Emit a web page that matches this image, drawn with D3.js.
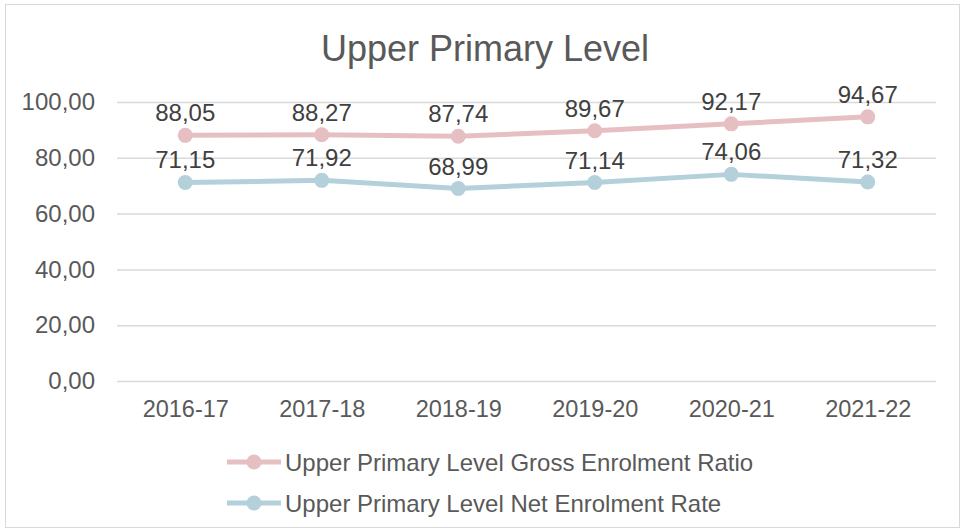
<!DOCTYPE html>
<html><head><meta charset="utf-8">
<script src="https://cdn.jsdelivr.net/npm/d3@7"></script>
<style>body{margin:0;background:#fff;} text{font-family:Arial,"Liberation Sans",sans-serif;}</style>
</head><body><svg id="c" width="964" height="532"></svg>
<script>
const categories = ["2016-17","2017-18","2018-19","2019-20","2020-21","2021-22"];
const grossValues = [88.05, 88.27, 87.74, 89.67, 92.17, 94.67];
const netValues = [71.15, 71.92, 68.99, 71.14, 74.06, 71.32];
const yTicks = [0, 20, 40, 60, 80, 100];
const seriesNames = ["Upper Primary Level Gross Enrolment Ratio","Upper Primary Level Net Enrolment Rate"];
const colors = ["#e6bfc3", "#b4d0da"];

const svg = d3.select("#c");
svg.append("rect").attr("x",5.5).attr("y",4.5).attr("width",954).attr("height",523)
  .attr("fill","#fff").attr("stroke","#d9d9d9");
svg.append("text").attr("x",485).attr("y",61).attr("text-anchor","middle")
  .attr("font-size",36).attr("fill","#595959").text("Upper Primary Level");

const x = d3.scalePoint().domain(categories).range([117,936]).padding(0.5);
const y = d3.scaleLinear().domain([0,100]).range([381,102]);
const fmt = v => d3.format(".2f")(v).replace(".", ",");

const yAxis = svg.append("g").attr("transform","translate(117,0)")
  .call(d3.axisLeft(y).tickValues(yTicks).tickSize(-819).tickFormat(fmt).tickPadding(22));
yAxis.select(".domain").remove();
yAxis.selectAll("line").attr("stroke","#d9d9d9").attr("stroke-width",1.5);
yAxis.selectAll("text").attr("font-size",24).attr("fill","#595959");

const xAxis = svg.append("g").attr("transform","translate(0,381)")
  .call(d3.axisBottom(x).tickSize(0).tickPadding(19));
xAxis.select(".domain").remove();
xAxis.selectAll("text").attr("font-size",23.5).attr("fill","#595959");

[grossValues, netValues].forEach((vals,i) => {
  const data = categories.map((c,j)=>({c, v: vals[j]}));
  svg.append("path").datum(data)
    .attr("d", d3.line().x(d=>x(d.c)).y(d=>y(d.v)))
    .attr("fill","none").attr("stroke",colors[i]).attr("stroke-width",5).attr("stroke-linejoin","round");
  svg.selectAll(null).data(data).enter().append("circle")
    .attr("cx",d=>x(d.c)).attr("cy",d=>y(d.v)).attr("r",7.5).attr("fill",colors[i]);
  svg.selectAll(null).data(data).enter().append("text")
    .attr("x",d=>x(d.c)).attr("y",d=>y(d.v)-14).attr("text-anchor","middle")
    .attr("font-size",24).attr("fill","#404040").text(d=>fmt(d.v));
});

seriesNames.forEach((n,i)=>{
  const yy = 462 + i*41;
  svg.append("line").attr("x1",227).attr("x2",281).attr("y1",yy).attr("y2",yy)
    .attr("stroke",colors[i]).attr("stroke-width",5);
  svg.append("circle").attr("cx",254).attr("cy",yy).attr("r",7.5).attr("fill",colors[i]);
  svg.append("text").attr("x",285).attr("y",yy+8.5).attr("font-size",24).attr("fill","#595959").text(n);
});
</script></body></html>
